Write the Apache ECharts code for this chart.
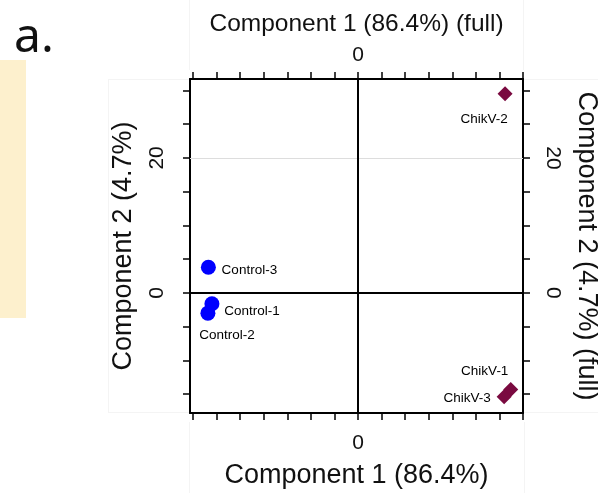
<!DOCTYPE html>
<html>
<head>
<meta charset="utf-8">
<script src="https://cdn.jsdelivr.net/npm/echarts@6/dist/echarts.min.js"></script>
<style>
  html, body { margin: 0; padding: 0; background: #ffffff; }
  #chart { width: 598px; height: 493px; }
</style>
</head>
<body>
<div id="chart"></div>
<script>
// PCA scores: component 1 vs component 2
const controlNames = ['Control-1', 'Control-2', 'Control-3'];
const controlPC1 = [-62.0, -63.7, -63.5];
const controlPC2 = [-1.6, -3.0, 3.8];

const chikvNames = ['ChikV-1', 'ChikV-2', 'ChikV-3'];
const chikvPC1 = [64.8, 62.4, 62.0];
const chikvPC2 = [-14.3, 29.5, -15.4];

// Axis ticks and labelled values
const xTicks = [-70, -60, -50, -40, -30, -20, -10, 0, 10, 20, 30, 40, 50, 60, 70];
const xLabels = [0];
const yTicks = [-15, -10, -5, 0, 5, 10, 15, 20, 25, 30];
const yLabels = [0, 20];
const yGridValue = 20;

const xTitleTop = 'Component 1 (86.4%) (full)';
const xTitleBottom = 'Component 1 (86.4%)';
const yTitleLeft = 'Component 2 (4.7%)';
const yTitleRight = 'Component 2 (4.7%) (full)';

// Label placement (pixel offsets from each marker centre)
const labelOffsets = {
  'Control-1': [40, 8],
  'Control-2': [19, 22],
  'Control-3': [41, 3],
  'ChikV-1': [-26, -18],
  'ChikV-2': [-21, 25],
  'ChikV-3': [-37, 1]
};

const FONT = '"Liberation Sans", Arial, sans-serif';
const INK = '#111111';

function points(names, xs, ys) {
  return names.map((n, i) => ({
    name: n,
    value: [xs[i], ys[i]],
    label: { offset: labelOffsets[n] }
  }));
}

const axisLineStyle = { show: true, lineStyle: { color: '#000', width: 2 } };
const tickStyle = { lineStyle: { color: '#000', width: 1.5 } };

function xAxisDef(pos, title, gap, nameSize, labelMargin) {
  return {
    type: 'value', position: pos, min: -71.3, max: 70,
    name: title, nameLocation: 'middle', nameGap: gap,
    nameTextStyle: { fontFamily: FONT, fontSize: nameSize, color: INK },
    axisLine: Object.assign({ onZero: false }, axisLineStyle),
    axisTick: Object.assign({ show: true, length: 7, inside: false, customValues: xTicks }, tickStyle),
    axisLabel: { show: true, customValues: xLabels, margin: labelMargin,
      fontFamily: FONT, fontSize: 21, color: INK },
    splitLine: { show: false }
  };
}

function yAxisDef(pos, title, gap, rot, labelRot, labelMargin) {
  return {
    type: 'value', position: pos, min: -17.8, max: 31.7,
    name: title, nameLocation: 'middle', nameGap: gap, nameRotate: rot,
    nameTextStyle: { fontFamily: FONT, fontSize: 27, color: INK },
    axisLine: Object.assign({ onZero: false }, axisLineStyle),
    axisTick: Object.assign({ show: true, length: 7, inside: false, customValues: yTicks }, tickStyle),
    axisLabel: { show: true, customValues: yLabels, rotate: labelRot, margin: labelMargin,
      fontFamily: FONT, fontSize: 21, color: INK },
    splitLine: { show: false }
  };
}

const labelBase = {
  show: true, position: 'inside', formatter: '{b}',
  fontFamily: FONT, fontSize: 13.5, color: '#000'
};

const faint = { stroke: '#f4f4f4', lineWidth: 1 };

const option = {
  animation: false,
  backgroundColor: '#ffffff',
  grid: { left: 190, top: 79, right: 75, bottom: 80, containLabel: false, outerBoundsMode: 'none' },
  xAxis: [
    xAxisDef('bottom', xTitleBottom, 49, 27, 20),
    xAxisDef('top', xTitleTop, 42, 24.5, 13)
  ],
  yAxis: [
    yAxisDef('left', yTitleLeft, 53, 90, 90, 22),
    yAxisDef('right', yTitleRight, 50, -90, -90, 19)
  ],
  graphic: [
    { type: 'rect', shape: { x: 0, y: 60, width: 26, height: 258 }, style: { fill: '#fdf0cd' }, silent: true },
    { type: 'text', left: 14, top: 14, style: { text: 'a.', font: '48px "Noto Sans", "Open Sans", sans-serif', fill: '#111' }, silent: true },
    { type: 'line', shape: { x1: 108, y1: 79.5, x2: 189, y2: 79.5 }, style: faint, silent: true },
    { type: 'line', shape: { x1: 108, y1: 412.5, x2: 189, y2: 412.5 }, style: faint, silent: true },
    { type: 'line', shape: { x1: 524, y1: 79.5, x2: 598, y2: 79.5 }, style: faint, silent: true },
    { type: 'line', shape: { x1: 524, y1: 412.5, x2: 598, y2: 412.5 }, style: faint, silent: true },
    { type: 'line', shape: { x1: 189.5, y1: 0, x2: 189.5, y2: 70 }, style: faint, silent: true },
    { type: 'line', shape: { x1: 523.5, y1: 0, x2: 523.5, y2: 70 }, style: faint, silent: true },
    { type: 'line', shape: { x1: 189.5, y1: 422, x2: 189.5, y2: 493 }, style: faint, silent: true },
    { type: 'line', shape: { x1: 524.5, y1: 422, x2: 524.5, y2: 493 }, style: faint, silent: true },
    { type: 'line', shape: { x1: 108.5, y1: 80, x2: 108.5, y2: 412 }, style: faint, silent: true }
  ],
  series: [
    {
      name: 'Control', type: 'scatter', xAxisIndex: 0, yAxisIndex: 0,
      symbol: 'circle', symbolSize: 15,
      itemStyle: { color: '#0000ff', opacity: 1 },
      label: labelBase,
      data: points(controlNames, controlPC1, controlPC2),
      z: 5,
      markLine: {
        silent: true, symbol: 'none', animation: false,
        label: { show: false },
        data: [
          { yAxis: yGridValue, lineStyle: { color: '#dddddd', width: 1, type: 'solid' } },
          { xAxis: 0, lineStyle: { color: '#000', width: 2, type: 'solid' } },
          { yAxis: 0, lineStyle: { color: '#000', width: 2, type: 'solid' } }
        ]
      }
    },
    {
      name: 'ChikV', type: 'scatter', xAxisIndex: 0, yAxisIndex: 0,
      symbol: 'diamond', symbolSize: 15,
      itemStyle: { color: '#7a0a40', opacity: 1 },
      label: labelBase,
      data: points(chikvNames, chikvPC1, chikvPC2),
      z: 5
    }
  ]
};

const chart = echarts.init(document.getElementById('chart'), null, { renderer: 'canvas' });
chart.setOption(option);
</script>
</body>
</html>
